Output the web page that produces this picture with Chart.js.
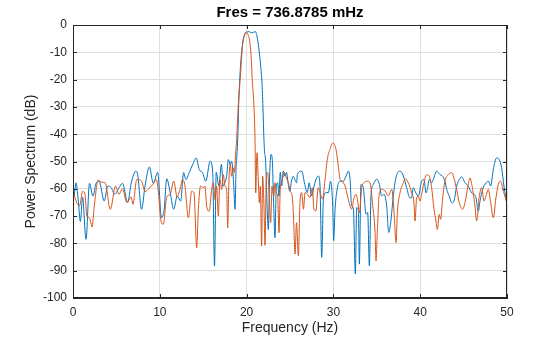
<!DOCTYPE html>
<html lang="en">
<head>
<meta charset="UTF-8">
<title>Power Spectrum</title>
<script src="https://cdn.jsdelivr.net/npm/chart.js"></script>
<style>
    html, body { margin: 0; padding: 0; background: #fff; }
    .chart-box { width: 560px; height: 337px; position: relative; }
</style>
</head>
<body>
<div class="chart-box">
    <canvas id="spectrum" width="560" height="337"></canvas>
</div>
<script>
// values (Hz, dB)
const blueHz = [0, 0.1, 0.35, 0.6, 0.85, 1.1, 1.5, 1.9, 2.3, 2.65, 3.0, 3.6, 4.0, 4.4, 4.8, 5.3, 5.7, 6.3, 6.7, 7.25, 7.45, 7.9, 8.3, 8.8, 9.25, 9.75, 10.2, 10.5, 10.8, 11.2, 11.6, 12.0, 12.4, 12.75, 13.0, 13.4, 13.8, 14.2, 14.55, 14.9, 15.3, 15.8, 16.1, 16.3, 16.5, 16.8, 17.1, 17.3, 17.5, 17.7, 17.9, 18.1, 18.28, 18.48, 18.67, 18.78, 18.88,
    19.0, 19.1, 19.3, 19.55, 19.8, 20.05, 20.25, 20.6, 21.0, 21.15, 21.3, 21.5, 21.65, 21.77, 21.88, 22.0, 22.05, 22.2, 22.35, 22.5, 22.65, 22.81, 22.96, 23.1, 23.27, 23.42, 23.58, 23.73, 23.88, 24.04, 24.23, 24.42, 24.6, 24.8, 24.98, 25.17, 25.37, 25.57, 25.75, 25.85, 26.35, 26.7, 27.0, 27.2, 27.5, 27.77, 28.07, 28.27, 28.46, 28.65, 28.85, 29.15, 29.42, 29.68, 29.92, 30.03, 30.19, 30.46, 30.77, 31.15, 31.46, 31.73, 31.92, 32.1, 32.3, 32.53, 32.68, 32.88, 32.99, 33.18, 33.45, 33.76, 33.95, 34.14, 34.33, 34.6, 34.98, 35.3, 35.56, 35.83, 36.14, 36.37, 36.6, 36.9, 37.2, 37.68, 38.06, 38.44, 38.8, 39.0, 39.2, 39.5, 39.78, 40.17, 40.44, 40.67, 40.82, 41.05, 41.32, 41.51, 41.9, 42.28, 42.59, 42.85, 43.05, 43.35, 43.62, 43.89, 44.2, 44.5, 44.77, 45.16, 45.54, 45.93, 46.2, 46.43, 46.7, 46.89, 47.2, 47.58, 47.85, 48.12, 48.42, 48.81, 49.11, 49.38, 49.65, 50.0];
const blueDb = [-62, -62.7, -57.8, -64, -72, -63, -78.5, -58, -62.7, -58, -57.2, -64.5, -59, -59.6, -62, -59.6, -58, -65, -58, -53.5, -54.8, -67.5, -59, -52, -58, -54, -70.6, -67.5, -56.3, -61.5, -67.5, -62.7, -64.5, -54, -56.6, -54, -51, -48.7, -53, -54, -57.2, -49.9, -54, -88.3, -54, -59, -51, -59, -57.8, -55.4, -49.3, -51.1, -49.9, -56.6, -67.5, -52.9, -48,
    -40, -28, -15, -6.5, -3.3, -2.6, -2.4, -2.9, -2.4, -3.5, -6, -11, -16, -21, -30, -42, -45.6, -50.5, -65.1, -74.9, -55.4, -47.4, -49.3, -63.9, -77.9, -59, -57.8, -62.7, -54, -59, -53.5, -55.4, -54, -58.4, -60.9, -57.2, -55.4, -56.6, -57.8, -54.7, -53.5, -58.4, -61.4, -57.8, -62.6, -59, -56, -55.3, -59, -85.1, -63.8, -61.4, -61.4, -57.2, -66.3, -79, -67.5, -59.6, -57.2, -57.2, -55.3, -53.5, -56.5, -66.3, -66.9, -91.2, -66.9, -68, -87.6, -58.4, -59.6, -69.3, -68.7, -88.2, -62.6, -58.4, -56.5, -58.4, -62.6, -62, -66.3, -76, -72.4, -62.6, -56, -53.5, -55.3, -59.6, -63.3, -63.3, -59.6, -61.5, -62.7, -57.2, -56.6, -61.5, -60.2, -56.6, -57.8, -56.6, -53.5, -54.8, -55.4, -57.2, -60.2, -62.7, -65.1, -64.5, -59, -56.6, -55.6, -57.8, -59, -61.5, -62, -63.3, -68.2, -64.5, -60.2, -57.8, -57.2, -59, -52.9, -48.7, -49.3, -52.3, -59, -66];

const orangeHz = [0, 0.2, 0.75, 1.1, 1.35, 1.6, 1.9, 2.2, 2.45, 2.9, 3.3, 3.7, 4.3, 4.9, 5.3, 5.7, 6.2, 6.7, 6.9, 7.35, 7.9, 8.3, 8.7, 9.2, 9.6, 9.85, 10.1, 10.4, 10.8, 11.2, 11.6, 12.0, 12.33, 12.64, 12.9, 13.29, 13.67, 13.94, 14.25, 14.44, 14.7, 15.0, 15.2, 15.4, 15.7, 15.97, 16.17, 16.36, 16.55, 16.74, 16.93, 17.13, 17.32, 17.51, 17.7, 17.82, 17.97, 18.12, 18.28, 18.47, 18.59, 18.74,
    18.85, 19.05, 19.28, 19.5, 19.75, 19.95, 20.15, 20.4, 20.55, 20.65, 20.85, 20.97, 21.05, 21.2, 21.33, 21.47, 21.58, 21.73, 21.85, 22.0, 22.12, 22.27, 22.43, 22.62, 22.77, 22.93, 23.12, 23.27, 23.42, 23.58, 23.73, 23.88, 24.12, 24.35, 24.58, 24.81, 25.04, 25.27, 25.4, 25.58, 25.75, 25.96, 26.15, 26.35, 26.55, 26.73, 27.0, 27.3, 27.57, 27.76, 27.98, 28.25, 28.52, 28.75, 29.02, 29.3, 29.6, 29.95, 30.3, 30.57, 30.77, 30.96, 31.35, 31.62, 31.92, 32.1, 32.38, 32.61, 32.8, 32.99, 33.26, 33.53, 33.91, 34.22, 34.53, 34.8, 34.91, 35.07, 35.3, 35.56, 35.95, 36.33, 36.72, 36.99, 37.22, 37.37, 37.68, 38.06, 38.25, 38.63, 39.01, 39.28, 39.4, 39.59, 39.78, 39.97, 40.17, 40.43, 40.74, 41.05, 41.32, 41.59, 41.82, 41.97, 42.2, 42.36, 42.59, 42.85, 43.24, 43.62, 43.89, 44.2, 44.5, 44.89, 45.16, 45.54, 45.73, 46.04, 46.31, 46.5, 46.81, 47.08, 47.35, 47.58, 47.85, 48.12, 48.42, 48.73, 49.0, 49.27, 49.58, 50.0];
const orangeDb = [-60, -63, -66.3, -61, -61.5, -70, -70.6, -74, -66.3, -56.8, -57.6, -57.8, -67.5, -59, -62, -60, -65, -63, -65.7, -56.6, -57.2, -61, -60, -58.4, -56.6, -61.5, -71.2, -73, -63, -62, -57.2, -63, -60.2, -56.6, -59, -70.6, -60.9, -61.5, -81.6, -67.5, -59, -59.6, -59, -66.3, -68.2, -60.2, -57.8, -63.9, -59, -70, -56.6, -60.2, -54.8, -59, -60.2, -74.3, -56.6, -51.1, -55.4, -52.3, -54, -46.8,
    -42, -29, -19, -8.5, -3.8, -2.6, -3.4, -7, -13, -20, -30, -42, -61.5, -46.8, -55.4, -65.1, -59, -81, -55.4, -66.3, -80.7, -56.6, -54, -63.9, -72.4, -59, -62.7, -57.8, -61.5, -62.7, -76.1, -60.2, -56.6, -54, -56, -57.8, -60.9, -63.3, -69.9, -83.9, -72.4, -84.5, -65, -61.4, -67.5, -61.4, -62, -63.2, -59.6, -67.5, -68.1, -59.6, -62, -63.8, -57.2, -49.2, -45.6, -43.2, -45.6, -51.7, -56.5, -57.2, -59, -62.6, -66.3, -67.5, -63.2, -62, -64.5, -68.7, -59.6, -57.8, -57.2, -57.8, -66.3, -76, -86.4, -74.8, -61.4, -60.2, -60.8, -62.6, -60.2, -68.7, -79.7, -68.7, -61.4, -57.8, -56.3, -57.8, -61.5, -65.1, -71.8, -63.3, -62.7, -64.5, -62, -57.8, -54.8, -55.4, -59.6, -67.5, -71.8, -74.9, -69.4, -71.2, -63.3, -57.2, -54.8, -54.1, -56, -60.2, -65.1, -67.5, -65.1, -58.4, -56, -60.2, -66.3, -71.8, -62.7, -59.6, -64.5, -62.7, -60.2, -65.1, -70.6, -63.3, -58.4, -57.2, -60.9, -65];

const xTicks = [0, 10, 20, 30, 40, 50];
const yTicks = [-100, -90, -80, -70, -60, -50, -40, -30, -20, -10, 0];
const titleText = "Fres = 736.8785 mHz";

function toPoints(xs, ys) {
    return xs.map((v, i) => ({ x: v, y: ys[i] }));
}

const axisColor = "#262626";
const fontFamily = "'Liberation Sans', Arial, Helvetica, sans-serif";

// box around the axes with inward tick marks, title centred over the axes
const boxTicks = {
    id: "boxTicks",
    afterDatasetsDraw(chart) {
        const { ctx, chartArea: a, scales: { x, y } } = chart;
        const len = 4;
        ctx.save();
        ctx.strokeStyle = axisColor;
        ctx.lineWidth = 1;
        ctx.beginPath();
        xTicks.forEach(v => {
            const px = Math.round(x.getPixelForValue(v)) + 0.5;
            ctx.moveTo(px, a.bottom); ctx.lineTo(px, a.bottom - len);
            ctx.moveTo(px, a.top); ctx.lineTo(px, a.top + len);
        });
        yTicks.forEach(v => {
            const py = Math.round(y.getPixelForValue(v)) + 0.5;
            ctx.moveTo(a.left, py); ctx.lineTo(a.left + len, py);
            ctx.moveTo(a.right, py); ctx.lineTo(a.right - len, py);
        });
        ctx.stroke();
        ctx.strokeRect(Math.round(a.left) + 0.5, Math.round(a.top) + 0.5,
            Math.round(a.right - a.left) - 1, Math.round(a.bottom - a.top) - 1);

        ctx.fillStyle = "#000";
        ctx.font = "bold 15px " + fontFamily;
        ctx.textAlign = "center";
        ctx.textBaseline = "middle";
        ctx.fillText(titleText, (a.left + a.right) / 2, 13);
        ctx.restore();
    }
};

const ctx = document.getElementById("spectrum").getContext("2d");
new Chart(ctx, {
    type: "scatter",
    data: {
        datasets: [
            {
                label: "Signal 1",
                data: toPoints(blueHz, blueDb),
                showLine: true,
                borderColor: "#0072BD",
                borderWidth: 1,
                pointRadius: 0,
                cubicInterpolationMode: "monotone",
                order: 2
            },
            {
                label: "Signal 2",
                data: toPoints(orangeHz, orangeDb),
                showLine: true,
                borderColor: "#D95319",
                borderWidth: 1,
                pointRadius: 0,
                cubicInterpolationMode: "monotone",
                order: 1
            }
        ]
    },
    options: {
        responsive: false,
        animation: false,
        maintainAspectRatio: false,
        layout: { padding: { left: 0, right: 53, top: 25, bottom: 0 } },
        plugins: {
            legend: { display: false },
            tooltip: { enabled: false },
            title: { display: false }
        },
        scales: {
            x: {
                type: "linear",
                min: 0,
                max: 50,
                afterFit: s => { s.height = 39; },
                afterBuildTicks: s => { s.ticks = xTicks.map(v => ({ value: v })); },
                ticks: { color: axisColor, font: { family: fontFamily, size: 12 }, padding: 7, autoSkip: false, maxRotation: 0 },
                grid: { color: "#dfdfdf", drawTicks: false },
                border: { color: axisColor },
                title: {
                    display: true,
                    text: "Frequency (Hz)",
                    color: axisColor,
                    font: { family: fontFamily, size: 14 },
                    padding: { top: 0, bottom: 0 }
                }
            },
            y: {
                type: "linear",
                min: -100,
                max: 0,
                afterFit: s => { s.width = 73; },
                afterBuildTicks: s => { s.ticks = yTicks.map(v => ({ value: v })); },
                ticks: { color: axisColor, font: { family: fontFamily, size: 12 }, padding: 6, autoSkip: false },
                grid: { color: "#dfdfdf", drawTicks: false },
                border: { color: axisColor },
                title: {
                    display: true,
                    text: "Power Spectrum (dB)",
                    color: axisColor,
                    font: { family: fontFamily, size: 14 },
                    padding: { top: 23, bottom: 0 }
                }
            }
        }
    },
    plugins: [boxTicks]
});
</script>
</body>
</html>
